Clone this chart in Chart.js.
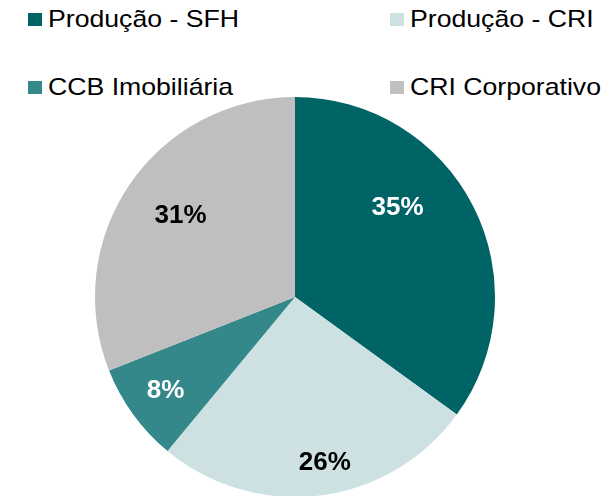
<!DOCTYPE html>
<html>
<head>
<meta charset="utf-8">
<script src="https://cdn.jsdelivr.net/npm/chart.js@4/dist/chart.umd.min.js"></script>
<style>
  html, body { margin: 0; padding: 0; background: #fff; overflow: hidden; }
  body { width: 613px; height: 496px; position: relative; font-family: "Liberation Sans", Arial, sans-serif; }
  .legend-item { position: absolute; height: 30px; }
  .legend-box { position: absolute; top: 0; width: 14px; height: 13px; }
  .legend-text { position: absolute; top: -8px; left: 20px; font-size: 24px; color: #000; white-space: nowrap; transform: scaleX(1.11); transform-origin: left center; }
  #pie-wrap { position: absolute; left: 95px; top: 97px; width: 400px; height: 400px; }
</style>
</head>
<body>
<div id="legend"></div>
<div id="pie-wrap"><canvas id="pie-chart"></canvas></div>
<script>
const labels = ["Produção - SFH", "Produção - CRI", "CCB Imobiliária", "CRI Corporativo"];
const shares = [35, 26, 8, 31];
const colors = ["#006466", "#CDE1E2", "#34888A", "#BFBFBF"];
const labelColors = ["#ffffff", "#000000", "#ffffff", "#000000"];

// where the percent labels sit inside each slice (fraction of radius, angle tweak in degrees)
const labelRadius = [0.68, 0.84, 0.8, 0.7];
const labelAngleShift = [-14, -3, 0, 1];

// legend slots: two columns, two rows
const legendSlots = [
  { left: 28, top: 13 },
  { left: 390, top: 13 },
  { left: 28, top: 81 },
  { left: 390, top: 81 }
];

function renderLegend() {
  const legend = document.getElementById("legend");
  legend.innerHTML = labels
    .map((label, i) => `
      <div class="legend-item" style="left:${legendSlots[i].left}px;top:${legendSlots[i].top}px">
        <div class="legend-box" style="background:${colors[i]}"></div>
        <div class="legend-text">${label}</div>
      </div>
    `)
    .join("");
}

const percentLabels = {
  id: "percentLabels",
  afterDatasetsDraw(chart) {
    const ctx = chart.ctx;
    const meta = chart.getDatasetMeta(0);
    ctx.save();
    ctx.font = "bold 26px 'Liberation Sans', Arial, sans-serif";
    ctx.textAlign = "center";
    ctx.textBaseline = "middle";
    meta.data.forEach((arc, i) => {
      const mid = (arc.startAngle + arc.endAngle) / 2 + labelAngleShift[i] * Math.PI / 180;
      const r = arc.outerRadius * labelRadius[i];
      ctx.fillStyle = labelColors[i];
      ctx.fillText(`${shares[i]}%`, arc.x + Math.cos(mid) * r, arc.y + Math.sin(mid) * r);
    });
    ctx.restore();
  }
};

renderLegend();

new Chart(document.getElementById("pie-chart"), {
  type: "pie",
  data: {
    labels,
    datasets: [
      {
        data: shares,
        backgroundColor: colors,
        borderWidth: 0
      }
    ]
  },
  options: {
    responsive: true,
    maintainAspectRatio: false,
    animation: false,
    layout: { padding: 0 },
    plugins: {
      legend: { display: false },
      tooltip: { enabled: false }
    }
  },
  plugins: [percentLabels]
});
</script>
</body>
</html>
